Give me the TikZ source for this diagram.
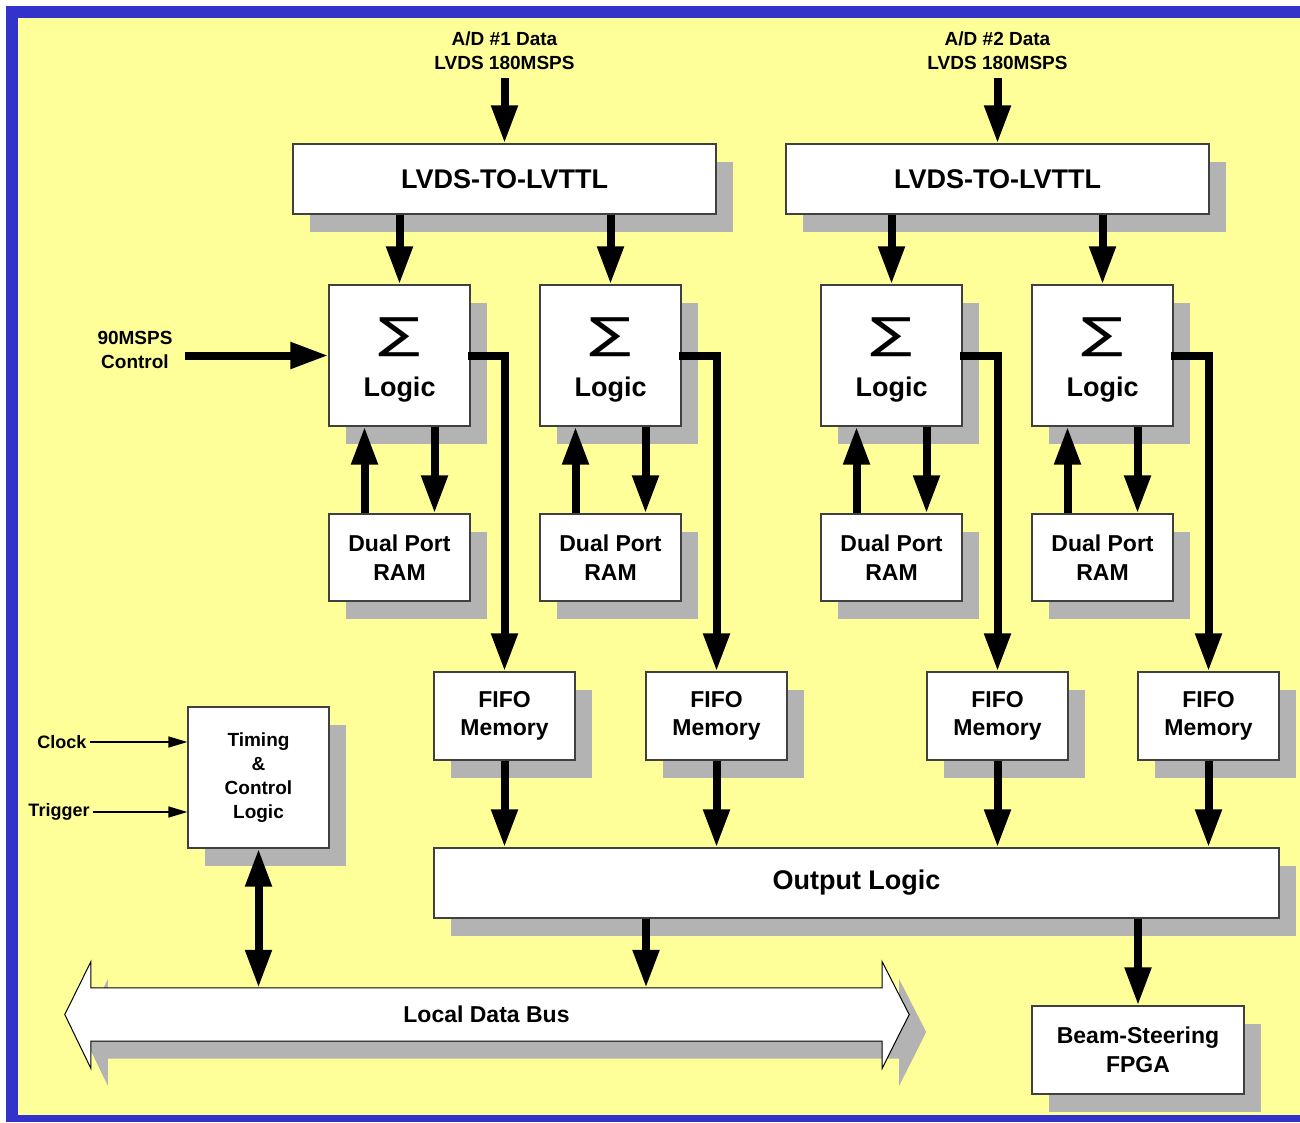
\documentclass[tikz,border=0pt]{standalone}
\usepackage{fontspec}
\setmainfont{Liberation Sans}
\newfontfamily\sigmafam{DejaVu Sans}
\usetikzlibrary{arrows.meta,shadows,positioning}

\definecolor{frameblue}{RGB}{51,51,204}
\definecolor{padyellow}{RGB}{255,255,153}
\definecolor{shadegray}{RGB}{179,179,179}

\newcommand{\fntbig}{\bfseries\fontsize{27}{33}\selectfont}
\newcommand{\fntmid}{\bfseries\fontsize{23}{28.5}\selectfont}
\newcommand{\fntsmall}{\bfseries\fontsize{19}{24}\selectfont}
\newcommand{\sumglyph}{\rule{0pt}{39pt}\resizebox*{42pt}{39pt}{\sigmafam\mdseries ∑}}

\begin{document}
\begin{tikzpicture}[x=1pt,y=-1pt]
\useasboundingbox (0,0) rectangle (1300,1122);

    \tikzstyle{blk}=[draw=black!75, line width=1.3pt, fill=white, align=center, inner sep=0pt,
        drop shadow={shadow xshift=17pt, shadow yshift=-17.5pt, fill=shadegray, opacity=1}];
    \tikzstyle{lbl}=[align=center, inner sep=3pt, font=\fntsmall];
    \tikzstyle{fat}=[line width=8pt, -{Triangle[length=38pt,width=25pt]}];
    \tikzstyle{fatboth}=[line width=8pt, {Triangle[length=38pt,width=25pt]}-{Triangle[length=38pt,width=25pt]}];
    \tikzstyle{slim}=[line width=1.5pt, -{Triangle[length=19pt,width=11pt]}];

% frame
\fill[white] (0,0) rectangle (1300,1122);
\fill[frameblue] (6,6) rectangle (1300,1122);
\fill[padyellow] (18,18) rectangle (1300,1115);

% converters
\node[blk, minimum width=423pt, minimum height=70pt, font=\fntbig] (lvdsA) at (504.5,179) {LVDS-TO-LVTTL};
\node[blk, minimum width=423pt, minimum height=70pt, font=\fntbig] (lvdsB) at (997.5,179) {LVDS-TO-LVTTL};
\node[lbl, inner sep=8pt] (adA) at (504.5,51) {A/D \#1 Data\\LVDS 180MSPS};
\node[lbl, inner sep=8pt] (adB) at (997.5,51) {A/D \#2 Data\\LVDS 180MSPS};

% sum logic, ram, fifo
\foreach \n/\xl/\xf in {A/399.5/504.5, B/610.5/716.5, C/891.5/997.5, D/1102.5/1208.5} {
  \node[blk, minimum width=141pt, minimum height=141pt, font=\fntbig] (log\n) at (\xl,355.5) {\sumglyph\\[15pt]Logic};
  \node[blk, minimum width=141pt, minimum height=87pt, font=\fntmid] (ram\n) at (\xl,557.5) {Dual Port\\RAM};
  \node[blk, minimum width=141pt, minimum height=88pt, font=\fntmid] (fifo\n) at (\xf,716) {FIFO\\Memory};
}

\node[blk, minimum width=845pt, minimum height=70pt, font=\fntbig] (out) at (856.5,883) {Output Logic};
\node[blk, minimum width=141pt, minimum height=141pt, font=\fntsmall] (tim) at (258.5,777.5) {Timing\\\&\\Control\\Logic};
\node[blk, minimum width=212pt, minimum height=88pt, font=\fntmid] (beam) at (1138,1050) {Beam-Steering\\FPGA};

\node[lbl] (ctl) at (135,350) {90MSPS\\Control};
\node[lbl, font=\bfseries\fontsize{18}{22}\selectfont] (clk) at (62,742) {Clock};
\node[lbl, font=\bfseries\fontsize{18}{22}\selectfont] (trg) at (59,812) {Trigger};

% local data bus
\node[minimum width=791pt, minimum height=53pt, inner sep=0pt] (bus) at (486.5,1014.5) {};
\draw[black, line width=1pt, fill=white,
      drop shadow={shadow xshift=17pt, shadow yshift=-17.5pt, fill=shadegray, opacity=1}]
  ([xshift=-26pt]bus.west) -- ([yshift=26pt]bus.north west) -- (bus.north west)
  -- (bus.north east) -- ([yshift=26pt]bus.north east) -- ([xshift=27pt]bus.east)
  -- ([yshift=-27pt]bus.south east) -- (bus.south east) -- (bus.south west)
  -- ([yshift=-27pt]bus.south west) -- cycle;
\node[font=\fntmid] (bustxt) at (bus) {Local Data Bus};

% connections
\draw[fat] (adA.south) -- (lvdsA.north);
\draw[fat] (adB.south) -- (lvdsB.north);
\draw[fat] (logA.north |- lvdsA.south) -- (logA.north);
\draw[fat] (logB.north |- lvdsA.south) -- (logB.north);
\draw[fat] (logC.north |- lvdsB.south) -- (logC.north);
\draw[fat] (logD.north |- lvdsB.south) -- (logD.north);
\draw[fat] ([xshift=9pt]ctl.east |- logA.west) -- (logA.west);

\foreach \n in {A,B,C,D} {
  \draw[fat] ([xshift=-35pt]ram\n.north) -- ([xshift=-35pt]log\n.south);
  \draw[fat] ([xshift=35pt]log\n.south) -- ([xshift=35pt]ram\n.north);
  \draw[fat] ([xshift=-3pt]log\n.east) -| (fifo\n.north);
  \draw[fat] (fifo\n.south) -- (fifo\n.south |- out.north);
}

\draw[fat] ([xshift=-210.5pt]out.south) -- ([xshift=-210.5pt]out.south |- bus.north);
\draw[fat] (beam.north |- out.south) -- (beam.north);
\draw[fatboth] (tim.south) -- (tim.south |- bus.north);

\draw[slim] (clk.east) -- (clk.east -| tim.west);
\draw[slim] (trg.east) -- (trg.east -| tim.west);
\end{tikzpicture}
\end{document}
